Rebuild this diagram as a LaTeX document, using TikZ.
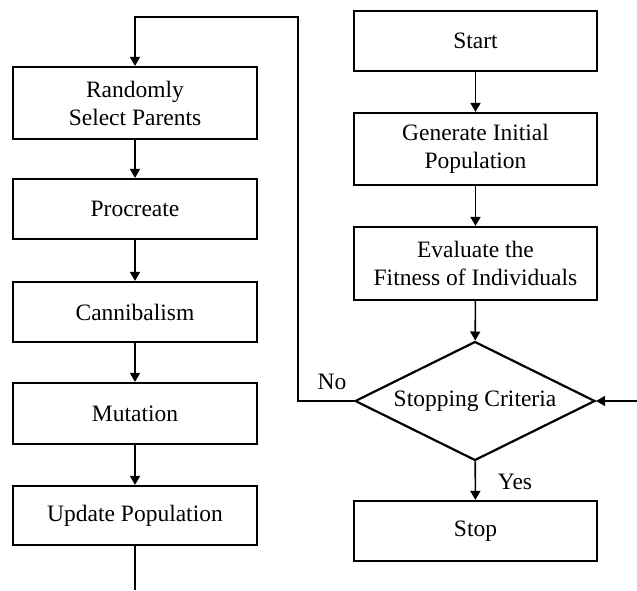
\documentclass[tikz,border=0pt]{standalone}
\usepackage{fontspec}
\setmainfont{Liberation Serif}
\usepackage{tikz}
\usetikzlibrary{arrows.meta,shapes.geometric}

\begin{document}
\begin{tikzpicture}[x=1pt,y=1pt,>={Triangle[length=9pt,width=10pt]},
  box/.style={rectangle,draw,line width=2.2pt,align=center,inner sep=0pt,
    font=\fontsize{23.5}{28}\selectfont},
  decision/.style={diamond,draw,line width=2.2pt,inner sep=0pt,aspect=2,
    minimum width=240pt,minimum height=119pt,font=\fontsize{23.5}{28}\selectfont},
  link/.style={line width=1.6pt},
  tag/.style={font=\fontsize{23.5}{28}\selectfont}]
  \useasboundingbox (0,0) rectangle (637,590);
  % left column
  \node[box,minimum width=244pt,minimum height=72pt] (l0) at (135,487) {Randomly\\Select Parents};
  \node[box,minimum width=244pt,minimum height=60pt] (l1) at (135,381) {Procreate};
  \node[box,minimum width=244pt,minimum height=60pt] (l2) at (135,278) {Cannibalism};
  \node[box,minimum width=244pt,minimum height=61pt] (l3) at (135,176.5) {Mutation};
  \node[box,minimum width=244pt,minimum height=59pt] (l4) at (135,74.5) {Update Population};
  % right column
  \node[box,minimum width=243pt,minimum height=60pt] (r0) at (475.5,549) {Start};
  \node[box,minimum width=243pt,minimum height=72pt] (r1) at (475.5,441) {Generate Initial\\Population};
  \node[box,minimum width=243pt,minimum height=73pt] (r2) at (475.5,326.5) {Evaluate the\\Fitness of Individuals};
  \node[decision] (dc) at (475,189) {Stopping Criteria};
  \node[box,minimum width=243pt,minimum height=60pt] (r3) at (475.5,59) {Stop};
  \node[tag] (no) at (332,208) {No};
  \node[tag] (yes) at (515,108) {Yes};
  \coordinate (lout) at (135,0);
  \coordinate (rin) at (637,189);

  \draw[->,link] (l0) -- (l1);
  \draw[->,link] (l1) -- (l2);
  \draw[->,link] (l2) -- (l3);
  \draw[->,link] (l3) -- (l4);
  \draw[link] (l4.south) -- (lout);
  \draw[->,link] (r0) -- (r1);
  \draw[->,link] (r1) -- (r2);
  \draw[->,link] (r2) -- (dc);
  \draw[->,link] (dc) -- (r3);
  \draw[->,link] (rin) -- (dc.east);
  \draw[->,link] (dc.west) -- (298,189) -- (298,573) -| (l0.north);
\end{tikzpicture}
\end{document}
